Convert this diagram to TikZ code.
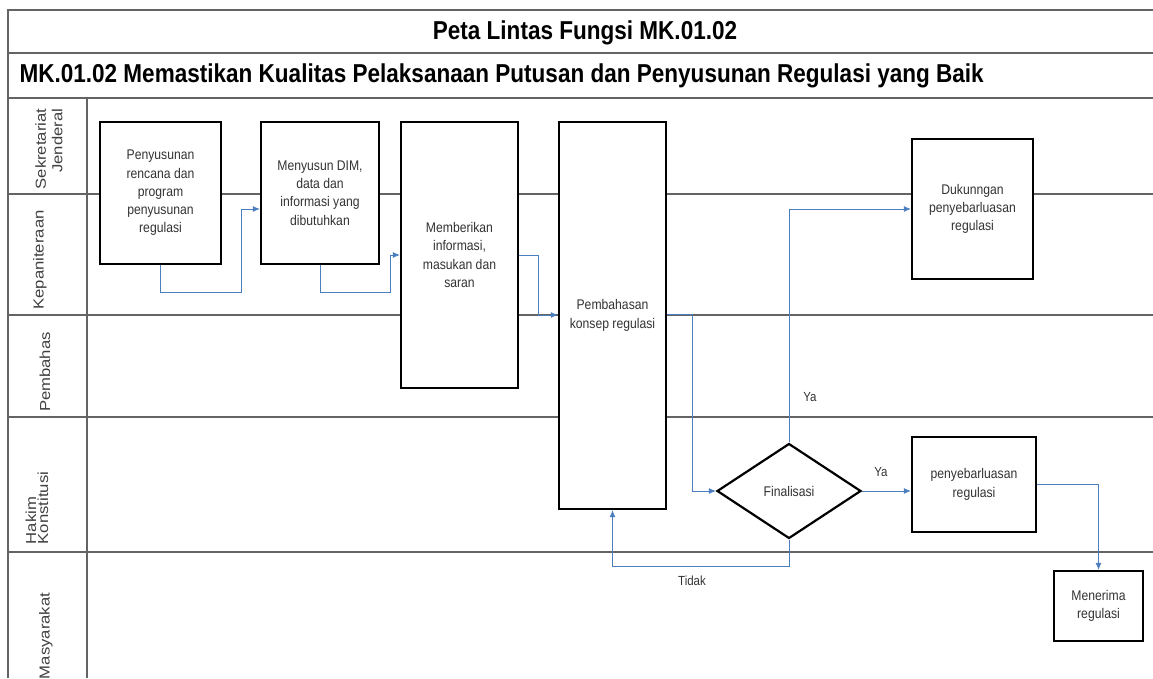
\documentclass[tikz,border=0pt]{standalone}
\usepackage{fontspec}
\setmainfont{Liberation Sans}
\newfontfamily\tallfont{Liberation Sans}[FakeStretch=0.87]
\newfontfamily\lanefont{Liberation Sans}[FakeStretch=1.15]
\usetikzlibrary{shapes.geometric,arrows.meta}
\definecolor{flowblue}{RGB}{74,126,190}
\definecolor{lanegray}{RGB}{100,100,100}

\begin{document}
\begin{tikzpicture}[x=1pt,y=-1pt,
    lane/.style={draw=lanegray,line width=1.8pt},
    task/.style={draw,line width=2.2pt,fill=white,align=center,inner sep=2pt,text=black!80,font=\tallfont\fontsize{14}{18.3}\selectfont},
    decide/.style={diamond,draw,line width=2.2pt,fill=white,inner sep=0pt,aspect=1.5,text=black!80,font=\tallfont\fontsize{14}{18.3}\selectfont},
    flow/.style={draw=flowblue,line width=0.9pt,-{Latex[length=7pt,width=6pt]}},
    lanename/.style={rotate=90,align=center,text=black!75,font=\lanefont\fontsize{14.5}{16.5}\selectfont},
    answer/.style={text=black!80,font=\tallfont\fontsize{13.2}{15}\selectfont}]
    \useasboundingbox (0,0) rectangle (1153,678);

    \draw[lane] (8,678) -- (8,10) -- (1153,10);
    \draw[lane] (8,53) -- (1153,53);
    \draw[lane] (8,98) -- (1153,98);
    \draw[lane] (87,98) -- (87,678);
    \foreach \y in {194,315,417,552}
        \draw[lane] (8,\y) -- (1153,\y);

    \node[font=\tallfont\bfseries\fontsize{25.9}{27}\selectfont] (title) at (585,33) {Peta Lintas Fungsi MK.01.02};
    \node[anchor=west,font=\tallfont\bfseries\fontsize{25.9}{27}\selectfont] (subtitle) at (16,76) {MK.01.02 Memastikan Kualitas Pelaksanaan Putusan dan Penyusunan Regulasi yang Baik};

    \node[lanename,align=right] (sekjen) at (49,149) {Sekretariat\\Jenderal};
    \node[lanename] (panitera) at (40,260) {Kepaniteraan};
    \node[lanename] (pembahas) at (45,372) {Pembahas};
    \node[lanename,align=left,font=\lanefont\fontsize{14.5}{12}\selectfont] (hakim) at (37,508) {Hakim\\Konstitusi};
    \node[lanename] (masyarakat) at (46,636) {Masyarakat};

    \node[task,minimum width=121pt,minimum height=142pt] (rencana) at (160.5,193) {Penyusunan\\rencana dan\\program\\penyusunan\\regulasi};
    \node[task,minimum width=118pt,minimum height=142pt] (dim) at (320,193) {Menyusun DIM,\\data dan\\informasi yang\\dibutuhkan};
    \node[task,minimum width=117pt,minimum height=266pt] (masukan) at (459.5,255) {Memberikan\\informasi,\\masukan dan\\saran};
    \node[task,minimum width=107pt,minimum height=387pt] (konsep) at (612.5,315.5) {Pembahasan\\konsep regulasi};
    \node[decide,minimum width=144pt,minimum height=95pt] (final) at (789,491) {Finalisasi};
    \node[task,minimum width=121pt,minimum height=140pt] (dukungan) at (972.5,209) {Dukunngan\\penyebarluasan\\regulasi};
    \node[task,minimum width=124pt,minimum height=95pt] (sebar) at (974,484.5) {penyebarluasan\\regulasi};
    \node[task,minimum width=89pt,minimum height=70pt] (terima) at (1098.5,606) {Menerima\\regulasi};

    \draw[flow] (rencana.south) |- (241,292) |- (dim.west |- 0,209);
    \draw[flow] (dim.south) |- (390,292) |- (masukan.west |- 0,255);
    \draw[flow] (masukan.east |- 0,255) -- (538,255) |- (konsep.west |- 0,315);
    \draw[flow] (konsep.east |- 0,314) -- (692,314) |- (final.west);
    \draw[flow] (final.north) |- (dukungan.west);
    \draw[flow] (final.east) -- (final.east -| sebar.west);
    \draw[flow] (final.south) -- (final.south |- 0,566) -| (konsep.south);
    \draw[flow] (sebar.east) -| (terima.north);

    \node[answer] (ya1) at (810,397) {Ya};
    \node[answer] (ya2) at (881,472) {Ya};
    \node[answer] (tidak) at (692,581) {Tidak};
\end{tikzpicture}
\end{document}
